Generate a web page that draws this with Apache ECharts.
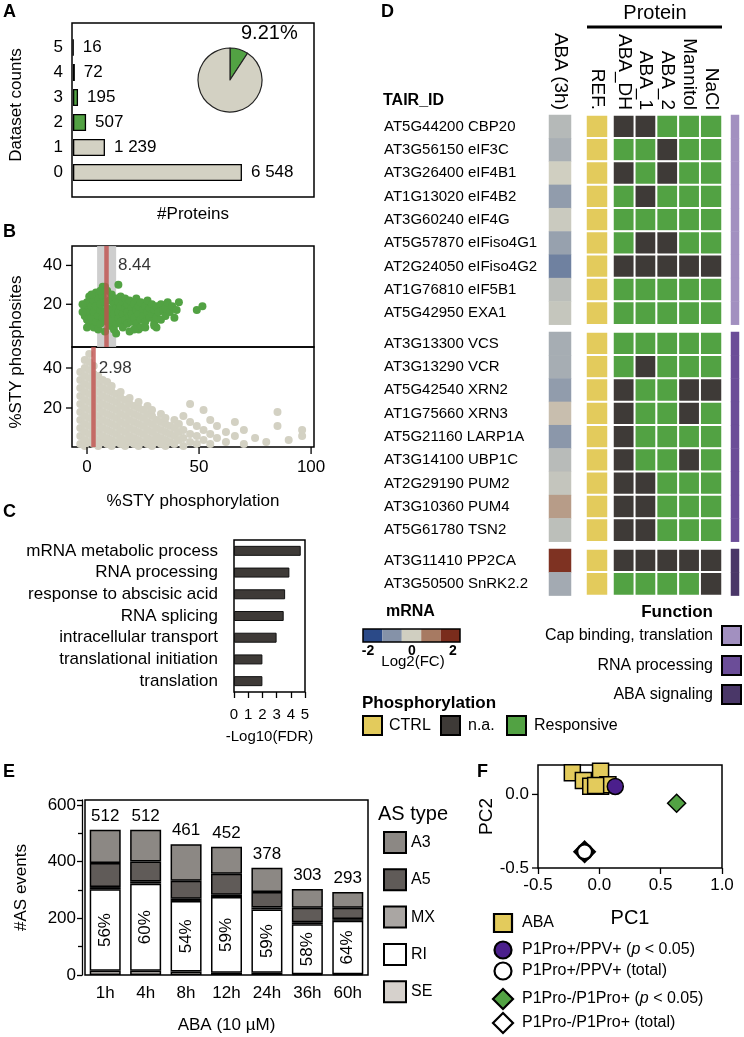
<!DOCTYPE html>
<html><head><meta charset="utf-8">
<script src="https://cdn.jsdelivr.net/npm/echarts@6/dist/echarts.min.js"></script>
<style>html,body{margin:0;padding:0;background:#fff}#c{width:744px;height:1037px}</style>
</head><body><div id="c"></div><script>
const FONT = '"Liberation Sans", Arial, Helvetica, sans-serif';
const GREEN = '#52a243', BEIGE = '#d3d1c3', DARK = '#3e3a37', YELLOW = '#e3cb5c';
const FUNC_COLORS = ['#a290c0', '#6b4d98', '#4a3768'];
const FC_COLORS = ['#2b4a88', '#8592a8', '#d0cfc1', '#a77a62', '#7a2c1c'];

// ---------- Panel A ----------
const datasetCounts = ['0', '1', '2', '3', '4', '5'];
const proteinCounts = [6548, 1239, 507, 195, 72, 16];

// ---------- Panel B ----------
const meanResponsive = 8.44;
const bandResponsive = [4.5, 13];
const meanAll = 2.98;
const phosTicksY = [20, 40];
const phosTicksX = [0, 50, 100];
const responsivePoints = [
[-1,18],[-1,14],[0,21],[0,12],[1,24],[1,16],[1,10],[2,19],[2,13],[3,22],[3,8],[3,16],[4,26],[4,11],[4,19],
[5,14],[5,23],[5,7],[6,17],[6,20],[6,10],[7,29],[7,13],[7,24],[8,16],[8,21],[8,6],[9,11],[9,27],[9,18],
[10,14],[10,22],[10,9],[11,17],[11,25],[11,12],[12,20],[12,7],[12,15],[13,23],[13,10],[13,18],[14,13],
[14,21],[14,16],[15,19],[15,11],[15,24],[16,15],[16,8],[16,21],[17,18],[17,12],[17,23],[18,16],[18,10],
[18,20],[19,14],[19,22],[20,18],[20,11],[20,15],[21,20],[21,13],[22,17],[22,23],[22,10],[23,15],[23,19],
[24,21],[24,12],[25,17],[25,14],[26,19],[26,11],[27,16],[27,22],[28,13],[28,18],[29,20],[29,15],[30,17],
[30,10],[31,19],[31,13],[32,16],[33,20],[33,12],[34,17],[35,14],[35,18],[36,21],[37,16],[38,19],[39,13],
[40,17],[41,21],[23,7],[24,8],[13,5],[30,9],[31,8],[8,29],[14,30],[6,27],[2,25],[0,8],[-2,16],[-2,20],
[19,6],[21,7],[26,8],[49,17],[51.5,19]
];
const allPoints = [
[-3,2],[-3,6],[-3,10],[-3,14],[-3,18],[-3,22],[-3,26],[-3,30],[-3,34],[-3,38],
[-1,1],[-1,4],[-1,8],[-1,12],[-1,16],[-1,20],[-1,24],[-1,28],[-1,32],[-1,36],[-1,40],[-1,44],
[1,3],[1,7],[1,11],[1,15],[1,19],[1,23],[1,27],[1,31],[1,35],[1,39],[1,43],[1,47],
[3,2],[3,5],[3,9],[3,13],[3,17],[3,21],[3,25],[3,29],[3,33],[3,37],[3,41],
[5,1],[5,4],[5,8],[5,12],[5,16],[5,20],[5,24],[5,28],[5,32],[5,36],
[7,3],[7,6],[7,10],[7,14],[7,18],[7,22],[7,26],[7,30],[7,34],
[9,2],[9,5],[9,9],[9,13],[9,17],[9,21],[9,25],[9,29],[9,33],
[11,1],[11,4],[11,8],[11,12],[11,16],[11,20],[11,24],[11,28],[11,31],
[13,3],[13,7],[13,11],[13,15],[13,19],[13,23],[13,27],
[15,2],[15,5],[15,9],[15,13],[15,17],[15,21],[15,25],[15,28],
[17,1],[17,4],[17,8],[17,12],[17,16],[17,20],[17,24],
[19,3],[19,6],[19,10],[19,14],[19,18],[19,22],[19,25],
[21,2],[21,5],[21,9],[21,13],[21,17],[21,21],
[23,1],[23,4],[23,8],[23,12],[23,16],[23,20],[23,23],
[25,3],[25,7],[25,11],[25,15],[25,19],
[27,2],[27,5],[27,9],[27,13],[27,17],[27,21],
[29,1],[29,4],[29,8],[29,12],[29,16],[29,19],
[31,3],[31,6],[31,10],[31,14],
[33,2],[33,5],[33,9],[33,13],[33,17],
[35,1],[35,4],[35,8],[35,12],[35,15],
[37,3],[37,7],[37,11],
[39,2],[39,6],[39,10],[39,14],
[41,4],[41,8],[41,12],
[43,1],[43,5],[43,9],[43,16],
[46,3],[46,7],[46,13],[46,22],
[49,2],[49,6],[49,11],
[52,4],[52,9],[52,19],
[55,2],[55,7],[55,14],
[58,5],[58,11],[62,3],[62,8],[66,6],[66,13],[70,2],[70,9],[75,5],[80,3],
[85,11],[85,18],[90,4],[96,6],[96,9]
];

// ---------- Panel C ----------
const goTerms = ['mRNA metabolic process', 'RNA processing', 'response to abscisic acid', 'RNA splicing',
  'intracellular transport', 'translational initiation', 'translation'];
const goLogFDR = [4.7, 3.9, 3.6, 3.5, 3.0, 2.0, 2.0];

// ---------- Panel D ----------
const geneGroups = [
  ['AT5G44200 CBP20','AT3G56150 eIF3C','AT3G26400 eIF4B1','AT1G13020 eIF4B2','AT3G60240 eIF4G',
   'AT5G57870 eIFiso4G1','AT2G24050 eIFiso4G2','AT1G76810 eIF5B1','AT5G42950 EXA1'],
  ['AT3G13300 VCS','AT3G13290 VCR','AT5G42540 XRN2','AT1G75660 XRN3','AT5G21160 LARP1A',
   'AT3G14100 UBP1C','AT2G29190 PUM2','AT3G10360 PUM4','AT5G61780 TSN2'],
  ['AT3G11410 PP2CA','AT3G50500 SnRK2.2']
];
const mrnaLog2FC = [
  [-0.45, -0.65, 0.0, -1.05, -0.1, -0.95, -1.55, -0.35, -0.18],
  [-0.7, -0.7, -1.05, 0.25, -1.15, -0.4, -0.2, 0.75, -0.33],
  [2.4, -0.75]
];
const proteinCols = ['ABA_DH', 'ABA_1', 'ABA_2', 'Mannitol', 'NaCl'];
// 0 = n.a., 1 = responsive
const phosStatus = [
  [[0,0,1,1,1],[1,1,0,1,1],[0,1,0,1,1],[1,0,1,1,1],[1,1,1,1,1],[1,0,0,1,1],[0,0,0,0,0],[1,1,1,1,1],[1,1,1,1,1]],
  [[1,1,1,1,1],[1,0,1,1,1],[0,1,1,0,0],[0,1,1,0,1],[0,1,1,1,1],[0,1,1,0,1],[0,0,1,1,1],[0,0,1,1,1],[0,0,1,1,1]],
  [[0,0,0,0,0],[1,1,1,1,0]]
];
const functionGroups = ['Cap binding, translation', 'RNA processing', 'ABA signaling'];

// ---------- Panel E ----------
const timepoints = ['1h', '4h', '8h', '12h', '24h', '36h', '60h'];
const asSE = [15, 15, 12, 8, 8, 3, 3];
const asRI = [287, 307, 249, 267, 223, 176, 188];
const asMX = [8, 8, 8, 8, 7, 7, 6];
const asA5 = [85, 70, 63, 74, 55, 51, 40];
const asA3 = [117, 112, 129, 95, 85, 66, 56];

// ---------- Panel F ----------
const pcaTicksY = [-0.5, 0.0];
const pcaABA = [[-0.22,0.147],[0.01,0.157],[-0.13,0.095],[-0.07,0.056],[0.01,0.056],[0.07,0.065],[-0.03,0.06]];
const pcaPPVsig = [[0.13, 0.054]];
const pcaPPVtotal = [[-0.12, -0.39]];
const pcaP1sig = [[0.63, -0.06]];
const pcaP1total = [[-0.12, -0.39]];

// =====================================================
const chart = echarts.init(document.getElementById('c'), null, {renderer: 'canvas', width: 744, height: 1037});
const grids = [], xAxes = [], yAxes = [], series = [], graphics = [];
function addGrid(g, xa, ya) {
  grids.push(Object.assign({containLabel: false}, g));
  const gi = grids.length - 1;
  xa.gridIndex = gi; ya.gridIndex = gi;
  xAxes.push(xa); yAxes.push(ya);
  return gi;
}
function txt(x, y, text, o) {
  o = o || {};
  return {type: 'text', x: x, y: y, rotation: o.rotation || 0, z: 100,
    style: {text: text, fontSize: o.size || 16, fontFamily: FONT, fontWeight: o.weight || 'normal',
      fill: o.color || '#000', align: o.align || 'left', verticalAlign: o.va || 'middle',
      textAlign: o.align || 'left', textVerticalAlign: o.va || 'middle', rich: o.rich}};
}
function box(x, y, w, h, fill, lw) {
  return {type: 'rect', shape: {x: x, y: y, width: w, height: h}, z: 90,
    style: {fill: fill || 'none', stroke: '#000', lineWidth: lw || 1.5}};
}
const fmtK = n => String(n).replace(/\B(?=(\d{3})+(?!\d))/g, ' ');
const lbl = (o) => Object.assign({color: '#000', fontFamily: FONT, fontSize: 16}, o || {});
const near = (v, list) => list.some(t => Math.abs(v - t) < 1e-9);
const noLine = {show: false, onZero: false};

// ---------- Panel A ----------
const gA = addGrid({left: 73, top: 35, width: 241, height: 150},
  {type: 'value', min: 0, max: 9340, show: false, axisLine: noLine},
  {type: 'category', data: datasetCounts, axisLine: noLine, axisTick: {show: false},
   axisLabel: lbl({fontSize: 17, margin: 10})});
series.push({type: 'bar', xAxisIndex: gA, yAxisIndex: gA, barWidth: 17, silent: true,
  data: proteinCounts.map((v, i) => ({value: v, itemStyle: {color: i >= 2 ? GREEN : BEIGE}})),
  itemStyle: {borderColor: '#000', borderWidth: 1.3},
  label: {show: true, position: 'right', distance: 9, fontSize: 17, color: '#000', fontFamily: FONT,
    formatter: p => fmtK(p.value)}});
const totalProteins = proteinCounts.reduce((a, b) => a + b, 0);
const multiProteins = proteinCounts.slice(2).reduce((a, b) => a + b, 0);
series.push({type: 'pie', center: [230, 80], radius: 32, startAngle: 90, clockwise: true, silent: true,
  label: {show: false}, labelLine: {show: false},
  itemStyle: {borderColor: '#222', borderWidth: 1.2},
  data: [{value: multiProteins, itemStyle: {color: GREEN}}, {value: totalProteins - multiProteins, itemStyle: {color: BEIGE}}]});
graphics.push(box(72, 23, 242, 174));
graphics.push(txt(241, 33, (multiProteins / totalProteins * 100).toFixed(2) + '%', {size: 20}));
graphics.push(txt(193, 214, '#Proteins', {size: 17, align: 'center'}));
graphics.push(txt(16, 105, 'Dataset counts', {size: 17, align: 'center', rotation: Math.PI / 2}));
graphics.push(txt(3, 12, 'A', {size: 18, weight: 'bold'}));

// ---------- Panel B ----------
const bxAxis = (showLab) => ({type: 'value', min: -6.7, max: 101.3, splitNumber: 10, splitLine: {show: false},
  axisLine: noLine, axisTick: {show: false},
  axisLabel: lbl({show: showLab, fontSize: 17, margin: 12, showMinLabel: false, showMaxLabel: false,
    formatter: v => near(v, phosTicksX) ? String(Math.round(v)) : ''})});
const byAxis = (mn, mx) => ({type: 'value', min: mn, max: mx, splitLine: {show: false}, axisLine: noLine,
  axisTick: {show: false},
  axisLabel: lbl({fontSize: 17, margin: 10, formatter: v => near(v, phosTicksY) ? String(Math.round(v)) : ''})});
const gB1 = addGrid({left: 72, top: 246, width: 242, height: 101, show: true, borderColor: '#000', borderWidth: 1.5},
  bxAxis(false), byAxis(-2, 50));
const gB2 = addGrid({left: 72, top: 347, width: 242, height: 100, show: true, borderColor: '#000', borderWidth: 1.5},
  bxAxis(true), byAxis(0.5, 50.5));
series.push({type: 'line', xAxisIndex: gB1, yAxisIndex: gB1, data: [], z: 1, silent: true,
  markArea: {silent: true, itemStyle: {color: '#c9c9c9', opacity: 0.9},
    data: [[{xAxis: bandResponsive[0]}, {xAxis: bandResponsive[1]}]]}});
series.push({type: 'scatter', xAxisIndex: gB1, yAxisIndex: gB1, data: responsivePoints, symbolSize: 8, z: 2, silent: true,
  itemStyle: {color: GREEN, opacity: 1}});
series.push({type: 'scatter', xAxisIndex: gB2, yAxisIndex: gB2, data: allPoints, symbolSize: 8, z: 2, silent: true,
  itemStyle: {color: BEIGE, opacity: 1}});
[[gB1, meanResponsive, 12], [gB2, meanAll, 5]].forEach(([g, m, d]) => {
  series.push({type: 'line', xAxisIndex: g, yAxisIndex: g, data: [], z: 3, silent: true,
    markLine: {silent: true, symbol: 'none', label: {show: false},
      lineStyle: {color: '#c0504d', width: 4.5, type: 'solid', opacity: 0.8}, data: [{xAxis: m}]}});
  series.push({type: 'scatter', xAxisIndex: g, yAxisIndex: g, data: [[m, 40]], symbolSize: 0, z: 4, silent: true,
    label: {show: true, position: 'right', distance: d, color: '#000', fontSize: 17, fontFamily: FONT,
      formatter: p => p.value[0].toFixed(2)}});
});
graphics.push(txt(16, 352, '%STY phosphosites', {size: 17, align: 'center', rotation: Math.PI / 2}));
graphics.push(txt(193, 501, '%STY phosphorylation', {size: 17, align: 'center'}));
graphics.push(txt(3, 232, 'B', {size: 18, weight: 'bold'}));

// ---------- Panel C ----------
const gC = addGrid({left: 234, top: 540, width: 71, height: 152, show: true, borderColor: '#000', borderWidth: 1.5},
  {type: 'value', min: 0, max: 5, interval: 1, splitLine: {show: false},
   axisLine: noLine, axisTick: {show: true, length: 6, lineStyle: {color: '#000', width: 1.3}},
   axisLabel: lbl({fontSize: 15, margin: 15}),
   name: '-Log10(FDR)', nameLocation: 'middle', nameGap: 37, nameTextStyle: lbl({fontSize: 15})},
  {type: 'category', inverse: true, data: goTerms, axisLine: noLine, axisTick: {show: false},
   axisLabel: lbl({fontSize: 17, margin: 16, interval: 0})});
series.push({type: 'bar', xAxisIndex: gC, yAxisIndex: gC, data: goLogFDR, barWidth: 10, silent: true,
  itemStyle: {color: DARK, borderColor: '#111', borderWidth: 1}});
graphics.push(txt(3, 512, 'C', {size: 18, weight: 'bold'}));

// ---------- Panel D ----------
const rowH = 23.3;
const groupTops = [115, 332, 549];
const mrnaSeries = [], statusSeries = [];
geneGroups.forEach((genes, g) => {
  const top = groupTops[g], h = genes.length * rowH;
  const first = g === 0;
  const topAxis = (names) => ({type: 'category', data: names, position: 'top',
    axisLine: noLine, axisTick: {show: false},
    axisLabel: lbl({show: first, rotate: 90, fontSize: 19, margin: 5, interval: 0})});
  const hideY = () => ({type: 'category', inverse: true, data: genes, show: false, axisLine: noLine});
  const gm = addGrid({left: 549, top: top, width: 22, height: h}, topAxis(['ABA (3h)']),
    {type: 'category', inverse: true, data: genes, axisLine: noLine, axisTick: {show: false},
     axisLabel: lbl({fontSize: 15, align: 'left', margin: 165, interval: 0})});
  series.push({type: 'heatmap', xAxisIndex: gm, yAxisIndex: gm, silent: true,
    data: mrnaLog2FC[g].map((v, i) => [0, i, v]), itemStyle: {borderWidth: 0}});
  mrnaSeries.push(series.length - 1);
  const gr = addGrid({left: 586, top: top, width: 22, height: h}, topAxis(['REF.']), hideY());
  series.push({type: 'heatmap', xAxisIndex: gr, yAxisIndex: gr, silent: true,
    data: genes.map((n, i) => [0, i, 2]), itemStyle: {borderColor: '#fff', borderWidth: 2}});
  statusSeries.push(series.length - 1);
  const gp = addGrid({left: 613, top: top, width: 109, height: h}, topAxis(proteinCols), hideY());
  const pd = [];
  phosStatus[g].forEach((row, i) => row.forEach((v, j) => pd.push([j, i, v])));
  series.push({type: 'heatmap', xAxisIndex: gp, yAxisIndex: gp, silent: true, data: pd,
    itemStyle: {borderColor: '#fff', borderWidth: 2}});
  statusSeries.push(series.length - 1);
  const gf = addGrid({left: 731, top: top, width: 8, height: h},
    {type: 'category', data: ['f'], show: false, axisLine: noLine}, hideY());
  series.push({type: 'heatmap', xAxisIndex: gf, yAxisIndex: gf, silent: true,
    data: genes.map((n, i) => [0, i, 3 + g]), itemStyle: {borderWidth: 0}});
  statusSeries.push(series.length - 1);
});
graphics.push(txt(655, 13, 'Protein', {size: 20, align: 'center'}));
graphics.push({type: 'line', shape: {x1: 587, y1: 27, x2: 722, y2: 27}, style: {stroke: '#000', lineWidth: 3}});
graphics.push(txt(383, 101, 'TAIR_ID', {size: 16, weight: 'bold'}));
graphics.push(txt(381, 12, 'D', {size: 18, weight: 'bold'}));
graphics.push(txt(386, 612, 'mRNA', {size: 16, weight: 'bold'}));
FC_COLORS.forEach((c, i) => graphics.push({type: 'rect', shape: {x: 363 + i * 19.4, y: 629, width: 19.4, height: 13},
  style: {fill: c}, z: 89}));
graphics.push(box(363, 629, 97, 13, 'none', 1.5));
graphics.push(txt(368, 651, '-2', {size: 14, weight: 'bold', align: 'center'}));
graphics.push(txt(412, 651, '0', {size: 14, weight: 'bold', align: 'center'}));
graphics.push(txt(453, 651, '2', {size: 14, weight: 'bold', align: 'center'}));
graphics.push(txt(413, 662, 'Log2(FC)', {size: 15, align: 'center'}));
graphics.push(txt(362, 703, 'Phosphorylation', {size: 17, weight: 'bold'}));
[[363, YELLOW, 'CTRL', 389], [441, DARK, 'n.a.', 468], [507, GREEN, 'Responsive', 534]].forEach(([x, c, t, tx]) => {
  graphics.push(box(x, 716, 19, 19, c, 2));
  graphics.push(txt(tx, 726, t, {size: 16}));
});
graphics.push(txt(713, 612, 'Function', {size: 17, weight: 'bold', align: 'right'}));
functionGroups.forEach((t, i) => {
  const y = [636, 666, 695][i];
  graphics.push(txt(713, y, t, {size: 16, align: 'right'}));
  graphics.push(box(722, y - 10, 19, 19, FUNC_COLORS[i], 2));
});

// ---------- Panel E ----------
const gE = addGrid({left: 85, top: 800, width: 283, height: 175, show: true, borderColor: '#000', borderWidth: 1.5},
  {type: 'category', data: timepoints, axisLine: noLine, axisTick: {show: false},
   axisLabel: lbl({fontSize: 17, margin: 10}),
   name: 'ABA (10 µM)', nameLocation: 'middle', nameGap: 42, nameTextStyle: lbl({fontSize: 17})},
  {type: 'value', min: 0, max: 617, interval: 200, offset: 3, splitLine: {show: false},
   axisLine: {show: true, onZero: false, lineStyle: {color: '#000', width: 1.3}},
   axisTick: {show: true, length: 5, lineStyle: {color: '#000', width: 1.3}},
   minorTick: {show: true, splitNumber: 2, length: 4, lineStyle: {color: '#000', width: 1.3}},
   axisLabel: lbl({fontSize: 17, margin: 6, showMaxLabel: false}),
   name: '#AS events', nameLocation: 'middle', nameGap: 52, nameTextStyle: lbl({fontSize: 17})});
const asTotals = timepoints.map((t, i) => asSE[i] + asRI[i] + asMX[i] + asA5[i] + asA3[i]);
const asDefs = [['SE', asSE, '#d6d1cc'], ['RI', asRI, '#ffffff'], ['MX', asMX, '#aaa6a3'],
  ['A5', asA5, '#605b58'], ['A3', asA3, '#8c8884']];
asDefs.forEach(([name, d, c]) => {
  const s = {type: 'bar', name: name, stack: 'as', xAxisIndex: gE, yAxisIndex: gE, data: d, barWidth: 31, silent: true,
    itemStyle: {color: c, borderColor: '#000', borderWidth: 1.5}};
  if (name === 'RI') s.label = {show: true, position: 'inside', rotate: 90, fontSize: 17, color: '#000', fontFamily: FONT,
    formatter: p => Math.round(p.value / asTotals[p.dataIndex] * 100) + '%'};
  if (name === 'A3') s.label = {show: true, position: 'top', distance: 5, fontSize: 17, color: '#000', fontFamily: FONT,
    formatter: p => asTotals[p.dataIndex]};
  series.push(s);
});
graphics.push(txt(3, 772, 'E', {size: 18, weight: 'bold'}));
graphics.push(txt(378, 814, 'AS type', {size: 20}));

// ---------- Panel F ----------
const gF = addGrid({left: 538, top: 765, width: 184, height: 103, show: true, borderColor: '#000', borderWidth: 1.5},
  {type: 'value', min: -0.5, max: 1.0, interval: 0.5, splitLine: {show: false}, axisLine: noLine,
   axisTick: {show: true, length: 6, lineStyle: {color: '#000', width: 1.3}},
   axisLabel: lbl({fontSize: 17, margin: 9, formatter: v => v.toFixed(1)}),
   name: 'PC1', nameLocation: 'middle', nameGap: 40, nameTextStyle: lbl({fontSize: 20})},
  {type: 'value', min: -0.5, max: 0.2, interval: 0.5, splitLine: {show: false}, axisLine: noLine,
   axisTick: {show: false},
   axisLabel: lbl({fontSize: 17, margin: 9, formatter: v => near(v, pcaTicksY) ? v.toFixed(1) : ''}),
   name: 'PC2', nameLocation: 'middle', nameGap: 27, nameTextStyle: lbl({fontSize: 19})});
const fSeries = [
  ['ABA', pcaABA, 'rect', 16, YELLOW, 1.5],
  ['P1Pro-/P1Pro+ (total)', pcaP1total, 'diamond', 20, '#fff', 2.5],
  ['P1Pro+/PPV+ (total)', pcaPPVtotal, 'circle', 15, '#fff', 2.5],
  ['P1Pro-/P1Pro+ (p < 0.05)', pcaP1sig, 'diamond', 18, GREEN, 1.5],
  ['P1Pro+/PPV+ (p < 0.05)', pcaPPVsig, 'circle', 16, '#4b1f8c', 1.5]
];
fSeries.forEach(([n, d, sym, sz, c, bw], i) => series.push({type: 'scatter', name: n, xAxisIndex: gF, yAxisIndex: gF,
  data: d, symbol: sym, symbolSize: sz, z: 3 + i, silent: true,
  itemStyle: {color: c, borderColor: '#000', borderWidth: bw, opacity: 1}}));
graphics.push(txt(477, 772, 'F', {size: 18, weight: 'bold'}));
const fl = (y, shape, fill, text) => {
  const cx = 503;
  let el;
  if (shape === 'rect') el = {type: 'rect', shape: {x: cx - 9, y: y - 9, width: 18, height: 18}};
  else if (shape === 'circle') el = {type: 'circle', shape: {cx: cx, cy: y, r: 8.5}};
  else el = {type: 'polygon', shape: {points: [[cx, y - 10], [cx + 10, y], [cx, y + 10], [cx - 10, y]]}};
  el.style = {fill: fill, stroke: '#000', lineWidth: 2.2}; el.z = 95;
  graphics.push(el);
  graphics.push(txt(522, y, text, {size: 16, rich: {i: {fontStyle: 'italic', fontSize: 16, fontFamily: FONT}, n: {fontSize: 16, fontFamily: FONT}}}));
};
fl(923, 'rect', YELLOW, 'ABA');
fl(950, 'circle', '#4b1f8c', '{n|P1Pro+/PPV+ (}{i|p}{n| < 0.05)}');
fl(971, 'circle', '#fff', 'P1Pro+/PPV+ (total)');
fl(999, 'diamond', GREEN, '{n|P1Pro-/P1Pro+ (}{i|p}{n| < 0.05)}');
fl(1023, 'diamond', '#fff', 'P1Pro-/P1Pro+ (total)');

chart.setOption({
  backgroundColor: '#fff',
  animation: false,
  textStyle: {fontFamily: FONT, color: '#000'},
  grid: grids, xAxis: xAxes, yAxis: yAxes,
  visualMap: [
    {type: 'continuous', show: false, min: -2.5, max: 2.5, dimension: 2, seriesIndex: mrnaSeries,
     inRange: {color: FC_COLORS}},
    {type: 'piecewise', show: false, dimension: 2, seriesIndex: statusSeries,
     pieces: [{value: 0, color: DARK}, {value: 1, color: GREEN}, {value: 2, color: YELLOW},
       {value: 3, color: FUNC_COLORS[0]}, {value: 4, color: FUNC_COLORS[1]}, {value: 5, color: FUNC_COLORS[2]}]}
  ],
  legend: [{data: ['A3', 'A5', 'MX', 'RI', 'SE'], orient: 'vertical', left: 383, top: 831, padding: 0,
    itemWidth: 22, itemHeight: 21, itemGap: 14.3, selectedMode: false, icon: 'rect',
    textStyle: {fontSize: 16, fontFamily: FONT, color: '#000'}}],
  series: series,
  graphic: graphics
});

// tick marks at the labelled values, placed through the axes' own scales
const tickEls = [];
const tickStyle = {stroke: '#000', lineWidth: 1.3};
const yTick = (gi, v, left) => {
  const y = chart.convertToPixel({yAxisIndex: gi}, v);
  tickEls.push({type: 'line', z: 95, shape: {x1: left - 6, y1: y, x2: left, y2: y}, style: tickStyle});
};
const xTick = (gi, v, bottom) => {
  const x = chart.convertToPixel({xAxisIndex: gi}, v);
  tickEls.push({type: 'line', z: 95, shape: {x1: x, y1: bottom, x2: x, y2: bottom + 7}, style: tickStyle});
};
phosTicksY.forEach(v => { yTick(gB1, v, 72); yTick(gB2, v, 72); });
phosTicksX.forEach(v => xTick(gB2, v, 447));
pcaTicksY.forEach(v => yTick(gF, v, 538));
chart.setOption({graphic: graphics.concat(tickEls)});
</script></body></html>
